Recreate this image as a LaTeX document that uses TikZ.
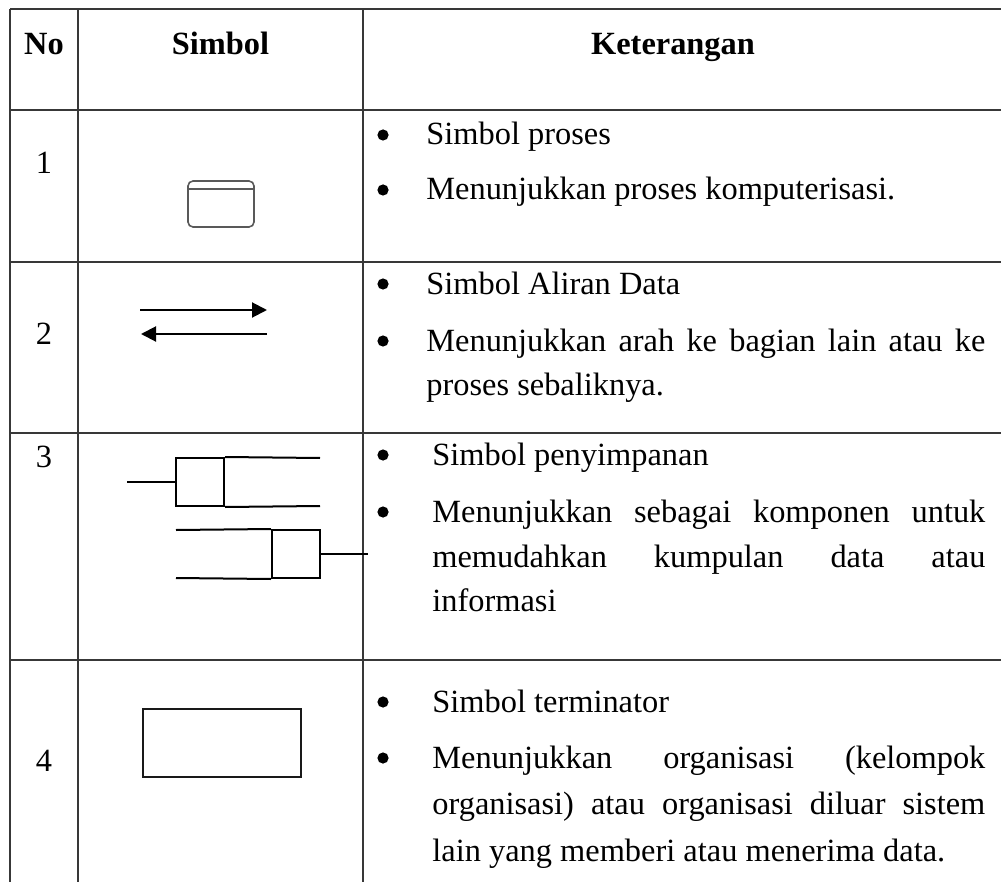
\documentclass[tikz,border=0pt]{standalone}
\usepackage{fontspec}
\setmainfont{Liberation Serif}
\usetikzlibrary{arrows.meta}
\tikzstyle{grid} = [draw=black!78, line width=1pt]
\tikzstyle{head} = [font=\fontsize{16.2}{20}\selectfont\bfseries, anchor=base,
inner sep=0pt]
\tikzstyle{num} = [font=\fontsize{16.2}{20}\selectfont, anchor=base, inner sep=0pt]
\tikzstyle{txt} = [font=\fontsize{16.2}{20}\selectfont, anchor=base west,
inner sep=0pt]
\tikzstyle{bul} = [circle, fill=black, inner sep=0pt, minimum size=5.6pt]
\tikzstyle{sym} = [draw=black, line width=1pt]
\tikzset{>={Triangle[length=7.5pt,width=7.5pt]}}
% one justified line of a cell
\newcommand{\jline}[2]{\makebox[#1][s]{#2}}

\begin{document}
\begin{tikzpicture}[x=0.5pt, y=-0.5pt]
\useasboundingbox (0,0) rectangle (1001,882);
% table rules
\foreach \yy in {9,110,262,433,660} { %
  \draw[grid] (10,\yy) -- (1001,\yy) ; %
}
\foreach \xx in {10,78,363} { %
  \draw[grid] (\xx,9) -- (\xx,882) ; %
}

% header
\node[head] (hno) at (44,55) {No} ;
\node[head] (hsym) at (220.5,55) {Simbol} ;
\node[head] (hket) at (673,55) {Keterangan} ;

% numbers
\node[num] (n1) at (44,174) {1} ;
\node[num] (n2) at (44,344) {2} ;
\node[num] (n3) at (44,467) {3} ;
\node[num] (n4) at (44,771) {4} ;

% 1: proses
\node[draw=black!65, line width=0.8pt, rounded corners=2.5pt, minimum width=33pt,
minimum height=23pt, inner sep=0pt] (proc) at (221,204) {} ;
\draw[draw=black!65, line width=0.8pt] ([yshift=-4.5pt]proc.north west) --
  ([yshift=-4.5pt]proc.north east) ;

% 2: aliran data
\coordinate (fa) at (140,310) ;
\coordinate (fb) at (267,310) ;
\coordinate (ba) at (267,334) ;
\coordinate (bb) at (141,334) ;
\draw[sym,->] (fa) -- (fb) ;
\draw[sym,->] (ba) -- (bb) ;

% 3: penyimpanan
\node[sym, minimum width=24pt, minimum height=24pt, inner sep=0pt] (st1) at (200,482) {} ;
\node[sym, minimum width=24pt, minimum height=24pt, inner sep=0pt] (st2) at (296,554) {} ;
\coordinate (st1l) at (127,482) ;
\coordinate (st1a) at (320,458) ;
\coordinate (st1b) at (320,506) ;
\coordinate (st2r) at (368,554) ;
\coordinate (st2a) at (176,530) ;
\coordinate (st2b) at (176,578) ;
\draw[sym] (st1l) -- (st1.west) ;
\draw[sym] (st1.north east) -- (st1a) ;
\draw[sym] (st1.south east) -- (st1b) ;
\draw[sym] (st2.east) -- (st2r) ;
\draw[sym] (st2a) -- (st2.north west) ;
\draw[sym] (st2b) -- (st2.south west) ;

% 4: terminator
\node[draw=black!90, line width=1.3pt, minimum width=79pt, minimum height=34pt,
inner sep=0pt] (term) at (222,743) {} ;

% keterangan 1
\node[bul] (b1a) at (383,135) {} ;
\node[txt] (t1a) at (426,145) {Simbol proses} ;
\node[bul] (b1b) at (383,190) {} ;
\node[txt] (t1b) at (426,200) {Menunjukkan proses komputerisasi.} ;

% keterangan 2
\node[bul] (b2a) at (383,284) {} ;
\node[txt] (t2a) at (426,294) {Simbol Aliran Data} ;
\node[bul] (b2b) at (383,341) {} ;
\node[txt] (t2b) at (426,351) {\jline{279.5pt}{Menunjukkan arah ke bagian lain atau ke}} ;
\node[txt] (t2c) at (426,395) {proses sebaliknya.} ;

% keterangan 3
\node[bul] (b3a) at (383,455) {} ;
\node[txt] (t3a) at (432,465) {Simbol penyimpanan} ;
\node[bul] (b3b) at (383,512) {} ;
\node[txt] (t3b) at (432,522) {\jline{276.5pt}{Menunjukkan sebagai komponen untuk}} ;
\node[txt] (t3c) at (432,567) {\jline{276.5pt}{memudahkan kumpulan data atau}} ;
\node[txt] (t3d) at (432,611) {informasi} ;

% keterangan 4
\node[bul] (b4a) at (383,702) {} ;
\node[txt] (t4a) at (432,712) {Simbol terminator} ;
\node[bul] (b4b) at (383,758) {} ;
\node[txt] (t4b) at (432,768) {\jline{276.5pt}{Menunjukkan organisasi (kelompok}} ;
\node[txt] (t4c) at (432,814) {\jline{276.5pt}{organisasi) atau organisasi diluar sistem}} ;
\node[txt] (t4d) at (432,861) {lain yang memberi atau menerima data.} ;
\end{tikzpicture}
\end{document}
